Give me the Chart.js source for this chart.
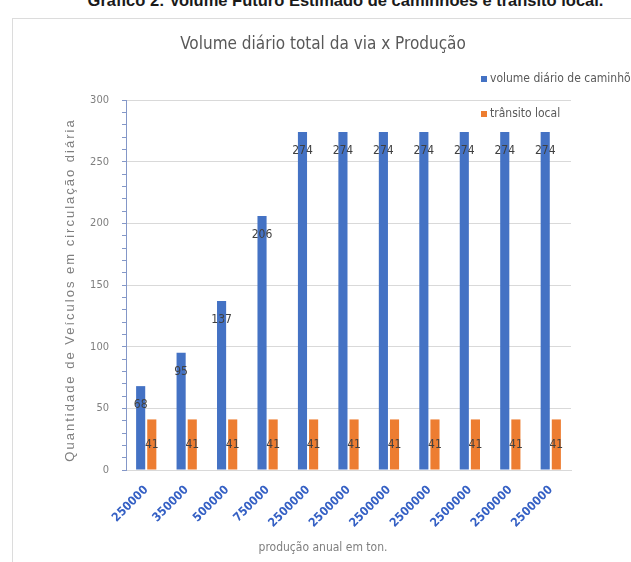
<!DOCTYPE html>
<html><head><meta charset="utf-8">
<script src="https://cdn.jsdelivr.net/npm/chart.js@4"></script>
<style>
html,body{margin:0;padding:0;background:#fff;width:631px;height:562px;overflow:hidden;}
#hdr{position:absolute;left:30px;width:631px;top:-9px;text-align:center;font:bold 16.5px "Liberation Sans",Arial,sans-serif;color:#1a1a1a;white-space:nowrap;}
#box{position:absolute;left:12px;top:18px;width:640px;height:560px;border:1px solid #dcdcdc;}
canvas{position:absolute;left:0;top:0;}
</style></head><body>
<div id="hdr">Gráfico 2: Volume Futuro Estimado de caminhões e trânsito local.</div>
<div id="box"></div>
<canvas id="c" width="631" height="562"></canvas>
<script>
const categories = ['250000','350000','500000','750000','2500000','2500000','2500000','2500000','2500000','2500000','2500000'];
const caminhoes = [68, 95, 137, 206, 274, 274, 274, 274, 274, 274, 274];
const transitoLocal = [41, 41, 41, 41, 41, 41, 41, 41, 41, 41, 41];
const seriesNames = ['volume diário de caminhões', 'trânsito local'];
const chartTitle = 'Volume diário total da via x Produção';
const yTitle = 'Quantidade de Veículos em circulação diária';
const xTitle = 'produção anual em ton.';
const yMin = 0, yMax = 300, yMajor = 50, yMinor = 10;

const NARROW = '"Liberation Sans Narrow","DejaVu Sans Condensed","Liberation Sans",sans-serif';
const BLUE = '#4472C4', ORANGE = '#ED7D31';

const labelPlugin = {
  id: 'valueLabels',
  afterDatasetsDraw(chart) {
    const ctx = chart.ctx;
    ctx.save();
    ctx.font = '12px ' + NARROW;
    ctx.fillStyle = '#404040';
    ctx.textAlign = 'center';
    ctx.textBaseline = 'middle';
    chart.data.datasets.forEach((ds, di) => {
      const meta = chart.getDatasetMeta(di);
      meta.data.forEach((el, i) => {
        const v = ds.data[i];
        const y = di === 0 ? el.y + 19 : (el.y + el.base) / 2;
        ctx.fillText(String(v), el.x, y);
      });
    });
    ctx.restore();
  }
};

const textPlugin = {
  id: 'titlesAndLegend',
  afterDraw(chart) {
    const ctx = chart.ctx;
    ctx.save();
    // chart title
    ctx.font = '17px ' + NARROW;
    ctx.fillStyle = '#595959';
    ctx.textAlign = 'center';
    ctx.textBaseline = 'middle';
    ctx.fillText(chartTitle, 323, 45);
    // x axis title
    ctx.font = '12px ' + NARROW;
    ctx.fillStyle = '#7f7f7f';
    ctx.fillText(xTitle, 323, 548);
    // y axis title
    ctx.save();
    ctx.translate(70, 290);
    ctx.rotate(-Math.PI / 2);
    ctx.font = '13px "Liberation Sans",sans-serif';
    ctx.letterSpacing = '2px';
    ctx.fillStyle = '#7f7f7f';
    ctx.fillText(yTitle, 0, 0);
    ctx.restore();
    // legend
    ctx.font = '12px ' + NARROW;
    ctx.textAlign = 'left';
    const rows = [79, 114];
    chart.data.datasets.forEach((ds, di) => {
      const y = rows[di];
      ctx.fillStyle = ds.backgroundColor;
      ctx.fillRect(481, y - 3, 6, 6);
      ctx.fillStyle = '#595959';
      ctx.fillText(ds.label, 490, y);
    });
    ctx.restore();
  }
};

new Chart(document.getElementById('c'), {
  type: 'bar',
  data: {
    labels: categories,
    datasets: [
      { label: seriesNames[0], data: caminhoes, backgroundColor: BLUE, categoryPercentage: 0.55, barPercentage: 0.82 },
      { label: seriesNames[1], data: transitoLocal, backgroundColor: ORANGE, categoryPercentage: 0.55, barPercentage: 0.82 }
    ]
  },
  options: {
    responsive: false,
    animation: false,
    devicePixelRatio: 1,
    layout: { padding: { top: 100, left: 58, right: 60, bottom: 4 } },
    plugins: {
      legend: { display: false },
      tooltip: { enabled: false },
      title: { display: false }
    },
    scales: {
      x: {
        afterFit(s) { s.height = 88; },
        grid: { display: false },
        border: { display: true, color: '#d9d9d9' },
        ticks: {
          minRotation: 45, maxRotation: 45, autoSkip: false, padding: 5,
          color: '#3560c4', font: { family: NARROW, size: 12, weight: 'bold' }
        },
        title: { display: false }
      },
      y: {
        min: yMin, max: yMax,
        afterFit(s) { s.width = 68; },
        grid: {
          color: c => (c.tick && c.tick.value % yMajor === 0) ? '#d9d9d9' : 'rgba(0,0,0,0)',
          tickColor: '#8497c8', tickLength: 4, drawTicks: true
        },
        border: { display: true, color: '#8497c8' },
        ticks: {
          stepSize: yMinor, autoSkip: false, padding: 13,
          color: '#7f7f7f', font: { family: NARROW, size: 11 },
          callback: v => (v % yMajor === 0 ? String(v) : '')
        },
        title: { display: false }
      }
    }
  },
  plugins: [labelPlugin, textPlugin]
});
</script>
</body></html>
